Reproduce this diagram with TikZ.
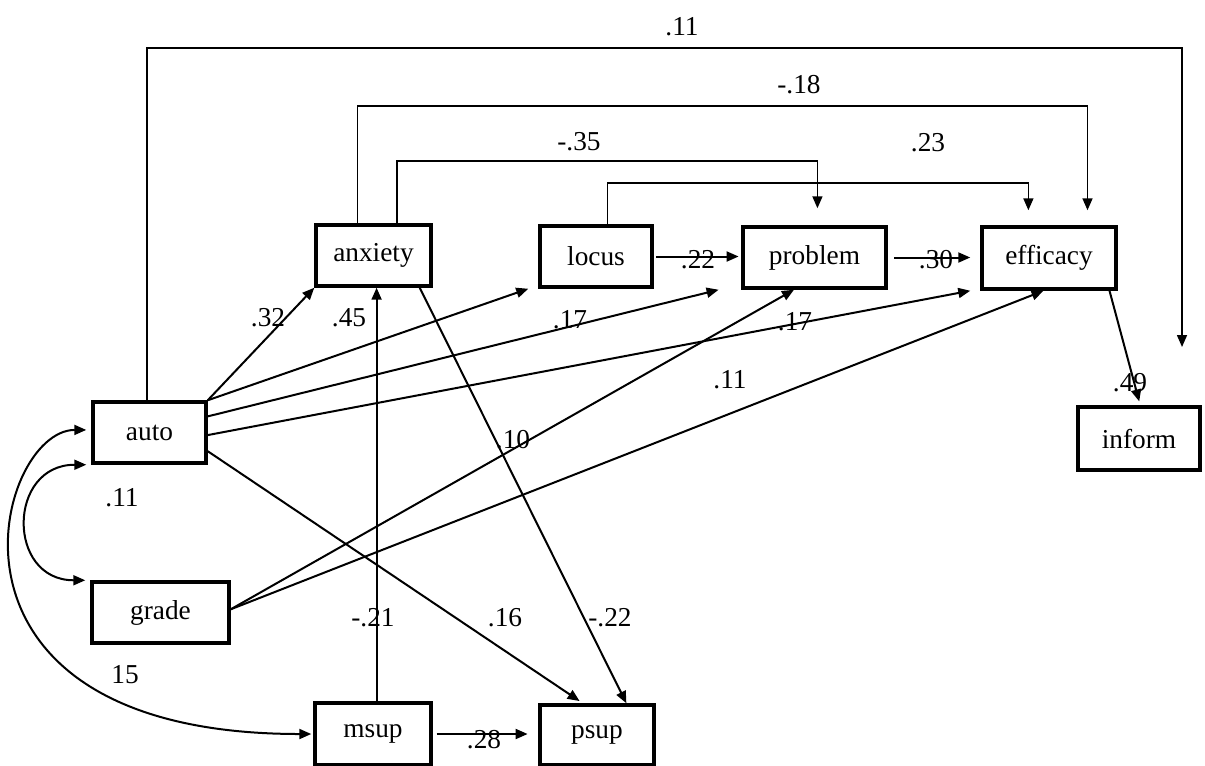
\documentclass[tikz,border=0pt]{standalone}
\usepackage{fontspec}
\setmainfont{Liberation Serif}
\usetikzlibrary{arrows.meta,calc}

\tikzset{every picture/.style={line width=0.75pt}}
\tikzset{
	box/.style={draw, line width=2.6pt, inner sep=0pt, font=\fontsize{20.5}{24}\selectfont},
	lbl/.style={inner sep=0pt, font=\fontsize{20.5}{24}\selectfont},
	link/.style={line width=1.5pt, -{Triangle[length=9pt,width=7.5pt]}},
	over/.style={line width=1.2pt, -{Triangle[length=9pt,width=7.5pt]}},
	corr/.style={line width=1.5pt, {Triangle[length=9pt,width=7.5pt]}-{Triangle[length=9pt,width=7.5pt]}}}

\begin{document}
\begin{tikzpicture}[x=0.75pt,y=0.75pt,yscale=-1,xscale=1]
	\useasboundingbox (0,0) rectangle (1205,765);

	%Shape: Rectangle
	\draw (149.5,432.5) node [box, minimum width=84.75pt, minimum height=45.75pt] (auto) {auto};
	%Shape: Rectangle
	\draw (373.5,255.5) node [box, minimum width=86.25pt, minimum height=45.75pt] (anxiety) {anxiety};
	%Shape: Rectangle
	\draw (596,256.5) node [box, minimum width=84pt, minimum height=45.75pt] (locus) {locus};
	%Shape: Rectangle
	\draw (814.5,257.5) node [box, minimum width=107.25pt, minimum height=45.75pt] (problem) {problem};
	%Shape: Rectangle
	\draw (1049,258) node [box, minimum width=100.5pt, minimum height=46.5pt] (efficacy) {efficacy};
	%Shape: Rectangle
	\draw (1139,438.5) node [box, minimum width=91.5pt, minimum height=47.25pt] (inform) {inform};
	%Shape: Rectangle
	\draw (160.5,612.5) node [box, minimum width=102.75pt, minimum height=45.75pt] (grade) {grade};
	%Shape: Rectangle
	\draw (373,734) node [box, minimum width=87pt, minimum height=46.5pt] (msup) {msup};
	%Shape: Rectangle
	\draw (597,735) node [box, minimum width=85.5pt, minimum height=45pt] (psup) {psup};
	\coordinate (outTip) at (1182,347);

	%Straight Lines
	\draw [link] (auto.north east) -- (anxiety.south west);
	\draw [link] (auto.north east) -- ([xshift=-7.5pt]locus.south west);
	\draw [link] ($(auto.north east)!.25!(auto.south east)$) -- ([xshift=-17pt]problem.south west);
	\draw [link] ($(auto.north east)!.54!(auto.south east)$) -- ([xshift=-7.5pt]efficacy.south west);
	\draw [link, shorten >=3pt] ($(auto.north east)!.79!(auto.south east)$) -- ($(psup.north west)!.38!(psup.north east)$);
	\draw [link] ($(anxiety.south west)!.89!(anxiety.south east)$) -- ($(psup.north west)!.75!(psup.north east)$);
	\draw [link] ($(msup.north west)!.53!(msup.north east)$) coordinate (msupTop) -- (msupTop |- anxiety.south);
	\draw [link] ($(grade.north east)!.45!(grade.south east)$) -- ($(problem.south west)!.36!(problem.south east)$);
	\draw [link] ($(grade.north east)!.45!(grade.south east)$) -- ($(efficacy.south west)!.46!(efficacy.south east)$);
	\draw [link, shorten >=3pt] ($(efficacy.south west)!.94!(efficacy.south east)$) -- ($(inform.north west)!.51!(inform.north east)$);
	\draw [link, shorten <=2pt, shorten >=2pt] (locus.east) -- (locus.east -| problem.west);
	\draw [link, shorten <=5pt, shorten >=7.5pt] (problem.east) -- (problem.east -| efficacy.west);
	\draw [link, shorten <=3pt, shorten >=8pt] (msup.east) -- (msup.east -| psup.west);

	%Straight Lines (paths over the top)
	\draw [over] ($(auto.north west)!.48!(auto.north east)$) -- ++(0,-352) -| (outTip);
	\draw [over, shorten >=11.25pt] ($(anxiety.north west)!.365!(anxiety.north east)$) -- ++(0,-117) -| ($(efficacy.north west)!.78!(efficacy.north east)$);
	\draw [over, shorten >=12.75pt] ($(anxiety.north west)!.70!(anxiety.north east)$) -- ++(0,-62) -| ($(problem.north west)!.52!(problem.north east)$);
	\draw [over, shorten >=11.25pt] ($(locus.north west)!.60!(locus.north east)$) -- ++(0,-41) -| ($(efficacy.north west)!.35!(efficacy.north east)$);

	%Curve Lines
	\draw [corr, shorten <=3.75pt, shorten >=1.5pt] ($(auto.north west)!.46!(auto.south west)$) .. controls +(-96,0) and +(-401,0) .. (msup.west);
	%Curve Lines
	\draw [corr, shorten <=3.75pt, shorten >=3.75pt] (auto.south west) .. controls +(-84,0) and +(-84,0) .. (grade.north west);

	% Text Node
	\draw (682,27) node [lbl] (cTop) {.11};
	% Text Node
	\draw (799,85) node [lbl] (cAnxEff) {-.18};
	% Text Node
	\draw (579,142) node [lbl] (cAnxProb) {-.35};
	% Text Node
	\draw (928,143) node [lbl] (cLocEff) {.23};
	% Text Node
	\draw (268,318) node [lbl] (cAutoAnx) {.32};
	% Text Node
	\draw (349,318) node [lbl] (cAutoLoc) {.45};
	% Text Node
	\draw (570,320) node [lbl] (cAutoProb) {.17};
	% Text Node
	\draw (795,322) node [lbl] (cAutoEff) {.17};
	% Text Node
	\draw (698,260) node [lbl] (cLocProb) {.22};
	% Text Node
	\draw (936,260) node [lbl] (cProbEff) {.30};
	% Text Node
	\draw (513,440) node [lbl] (cGradeProb) {.10};
	% Text Node
	\draw (730,380) node [lbl] (cGradeEff) {.11};
	% Text Node
	\draw (1130,383) node [lbl] (cEffInf) {.49};
	% Text Node
	\draw (122,498) node [lbl] (cAutoGrade) {.11};
	% Text Node
	\draw (373,618) node [lbl] (cMsupAnx) {-.21};
	% Text Node
	\draw (505,618) node [lbl] (cAutoPsup) {.16};
	% Text Node
	\draw (610,618) node [lbl] (cAnxPsup) {-.22};
	% Text Node
	\draw (484,740) node [lbl] (cMsupPsup) {.28};
	% Text Node
	\draw (125,675) node [lbl] (cAutoMsup) {15};

\end{tikzpicture}
\end{document}
